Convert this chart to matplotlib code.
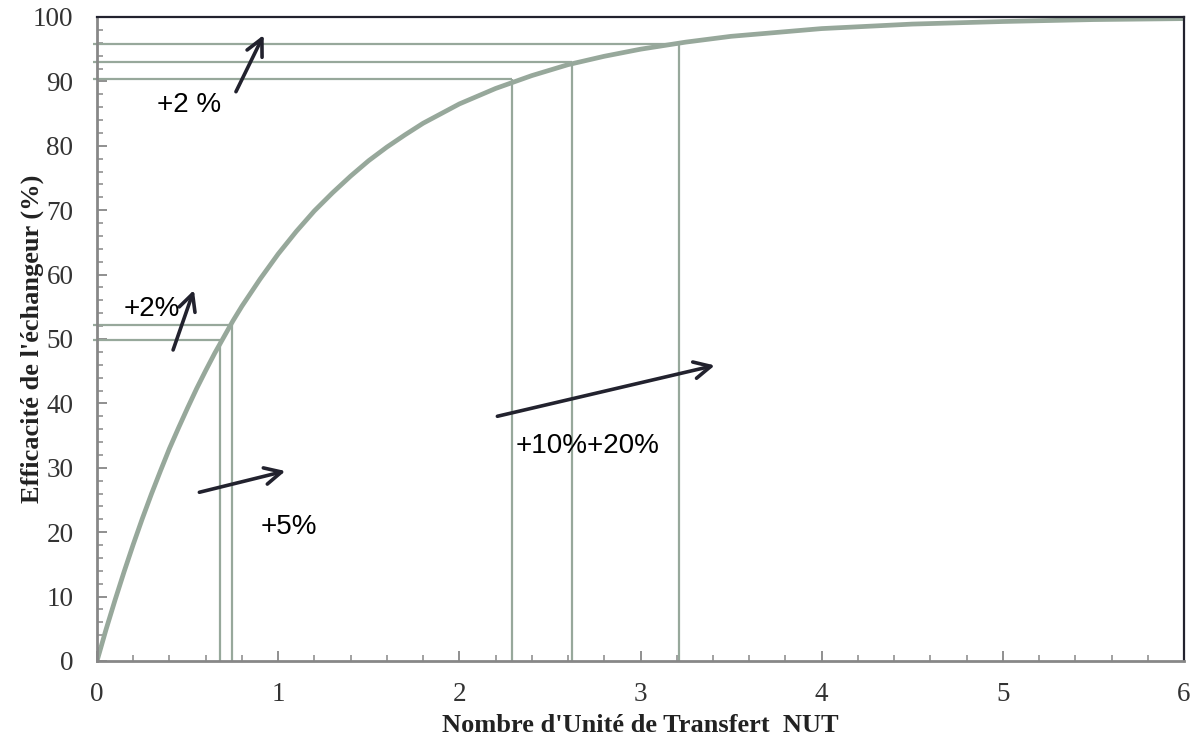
import numpy as np
import matplotlib.pyplot as plt
from matplotlib.ticker import MultipleLocator

# efficiency curve
nut = [0, 0.05, 0.1, 0.15, 0.2, 0.25, 0.3, 0.35, 0.4, 0.45, 0.5, 0.55, 0.6,
       0.65, 0.7, 0.75, 0.8, 0.9, 1.0, 1.1, 1.2, 1.3, 1.4, 1.5, 1.6, 1.7,
       1.8, 1.9, 2.0, 2.2, 2.4, 2.6, 2.8, 3.0, 3.25, 3.5, 3.75, 4.0, 4.5,
       5.0, 5.5, 6.0]
eff = [0, 4.9, 9.5, 13.9, 18.1, 22.1, 25.9, 29.5, 33.0, 36.2, 39.3, 42.3,
       45.1, 47.8, 50.3, 52.8, 55.1, 59.3, 63.2, 66.7, 69.9, 72.7, 75.3,
       77.7, 79.8, 81.7, 83.5, 85.0, 86.5, 88.9, 90.9, 92.6, 93.9, 95.0,
       96.1, 97.0, 97.6, 98.2, 98.9, 99.3, 99.6, 99.75]

# reference points (NUT, efficiency)
ref_nut = [0.68, 0.745, 2.29, 2.62, 3.21]
ref_eff = [49.8, 52.2, 90.4, 93.0, 95.8]

# annotations
labels = ['+2 %', '+2%', '+5%', '+10%+20%']
label_xy = [(0.51, 86.3), (0.30, 54.6), (1.06, 20.8), (2.71, 33.4)]
arrows = [((0.767, 88.4), (0.92, 97.2)),
          ((0.42, 48.3), (0.535, 57.6)),
          ((0.565, 26.2), (1.04, 29.5)),
          ((2.21, 38.0), (3.41, 45.9))]

curve_col = '#97a89b'
arrow_col = '#22222e'
axis_col = '#878787'

fig = plt.figure(figsize=(11.92, 7.38), dpi=100)
ax = fig.add_axes([97/1192, 1-661/738, 1087/1192, 644/738])

for x, y in zip(ref_nut, ref_eff):
    ax.plot([x, x], [0, y], color=curve_col, lw=1.6, solid_capstyle='butt')
    ax.plot([-0.02, x], [y, y], color=curve_col, lw=1.6, solid_capstyle='butt', clip_on=False)

ax.plot(nut, eff, color=curve_col, lw=3.4, solid_capstyle='round', solid_joinstyle='round')

for (x0, y0), (x1, y1) in arrows:
    ax.annotate('', xy=(x1, y1), xytext=(x0, y0),
                arrowprops=dict(arrowstyle='->', color=arrow_col, lw=2.6,
                                mutation_scale=30, shrinkA=0, shrinkB=0))

for t, (x, y) in zip(labels, label_xy):
    ax.text(x, y, t, ha='center', va='center', fontsize=20,
            family='Liberation Sans', color='black')

ax.set_xlim(0, 6)
ax.set_ylim(0, 100)
ax.xaxis.set_major_locator(MultipleLocator(1))
ax.xaxis.set_minor_locator(MultipleLocator(0.2))
ax.yaxis.set_major_locator(MultipleLocator(10))
ax.yaxis.set_minor_locator(MultipleLocator(2))
ax.tick_params(which='major', direction='in', length=7, width=1.3, color=axis_col,
               labelsize=19.5, labelcolor='#333333')
ax.tick_params(axis='y', which='major', pad=17)
ax.tick_params(axis='x', which='major', pad=15)
ax.tick_params(which='minor', direction='in', length=4, width=1.1, color=axis_col)
for lab in ax.get_xticklabels() + ax.get_yticklabels():
    lab.set_family('Liberation Serif')

ax.spines['left'].set_color(axis_col)
ax.spines['bottom'].set_color(axis_col)
ax.spines['left'].set_linewidth(2)
ax.spines['bottom'].set_linewidth(2)
ax.spines['top'].set_color('#22222e')
ax.spines['right'].set_color('#22222e')
ax.spines['top'].set_linewidth(1.6)
ax.spines['right'].set_linewidth(1.6)

ax.set_xlabel("Nombre d'Unité de Transfert  NUT", family='Liberation Serif',
              fontweight='bold', fontsize=19, color='#222222')
ax.set_ylabel("Efficacité de l'échangeur (%)", family='Liberation Serif',
              fontweight='bold', fontsize=19, color='#222222')
ax.xaxis.set_label_coords(0.5, -0.083)
ax.yaxis.set_label_coords(-0.049, 0.5)

fig.savefig('out.png', dpi=100)
